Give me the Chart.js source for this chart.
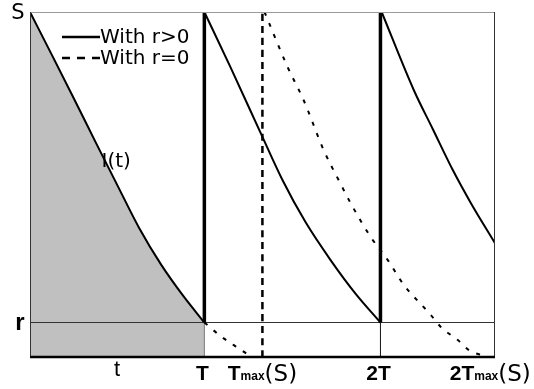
<!DOCTYPE html>
<html>
<head>
<meta charset="utf-8">
<script src="https://cdn.jsdelivr.net/npm/chart.js@4/dist/chart.umd.min.js"></script>
<style>
  html, body { margin: 0; padding: 0; background: #fff; }
  #wrap { width: 534px; height: 389px; }
</style>
</head>
<body>
<div id="wrap"><canvas id="myChart"></canvas></div>
<script>
// axis range
const xRange = [0, 2.667];
const yRange = [0, 1];

// levels on the y axis: r and S
const levelY = [0.1, 1];
const levelLabels = ['r', 'S'];

// marks on the x axis: T, Tmax(S), 2T
const markX = [1, 1.333, 2.01];

// bottom labels
const xTickValues = [0.5, 1, 1.333, 2.01, 2.64];
const xTickLabels = ['t', 'T', 'Tmax(S)', '2T', '2Tmax(S)'];

// With r>0 (solid)
const curve1X = [0, 0.126, 0.253, 0.379, 0.5, 0.626, 0.753, 0.879, 1.0];
const curve1Y = [1.0, 0.875, 0.748, 0.62, 0.499, 0.374, 0.267, 0.177, 0.1];
const curve2X = [1.0, 1.149, 1.333, 1.448, 1.58, 1.724, 1.868, 2.01];
const curve2Y = [1.0, 0.841, 0.638, 0.513, 0.391, 0.281, 0.183, 0.1];
const curve3X = [2.017, 2.201, 2.31, 2.425, 2.529, 2.667];
const curve3Y = [1.0, 0.774, 0.661, 0.542, 0.446, 0.33];

// With r=0 (dashed)
const dash1X = [1.0, 1.092, 1.167, 1.236, 1.264];
const dash1Y = [0.1, 0.061, 0.035, 0.012, 0.004];
const dash2X = [1.345, 1.477, 1.569, 1.684, 1.77, 1.839, 1.954, 2.052, 2.144, 2.299, 2.356, 2.454, 2.517, 2.603];
const dash2Y = [1.0, 0.841, 0.745, 0.6, 0.513, 0.446, 0.348, 0.281, 0.209, 0.122, 0.087, 0.049, 0.02, 0.003];

const pts = (xs, ys) => xs.map((x, i) => ({ x: x, y: ys[i] }));

const r = levelY[0];
const S = levelY[1];

function solid(data, width) {
  return { data: data, borderColor: '#000', borderWidth: width, pointRadius: 0, fill: false,
           tension: 0.3, cubicInterpolationMode: 'monotone' };
}
function dashed(data, width, dash) {
  return { data: data, borderColor: '#000', borderWidth: width, borderDash: dash, pointRadius: 0,
           fill: false, cubicInterpolationMode: 'monotone' };
}

const datasets = [
  // shaded area under I(t)
  Object.assign(solid(pts(curve1X, curve1Y), 2), { fill: 'origin', backgroundColor: '#c0c0c0', order: 5 }),
  solid(pts(curve2X, curve2Y), 2),
  solid(pts(curve3X, curve3Y), 2),
  solid(pts([markX[0], markX[0]], [r, S]), 3.5),
  solid(pts([markX[2], markX[2]], [r, S]), 3.5),
  dashed(pts(dash1X, dash1Y), 2, [4, 8]),
  dashed(pts(dash2X, dash2Y), 2, [4, 8]),
  dashed(pts([markX[1], markX[1]], [0, S]), 2.5, [7, 5]),
  { data: pts(xRange, [r, r]), borderColor: '#333', borderWidth: 1, pointRadius: 0, fill: false },
  { data: pts([markX[0], markX[0]], [0, r]), borderColor: '#777', borderWidth: 1, pointRadius: 0, fill: false },
  { data: pts([markX[2], markX[2]], [0, r]), borderColor: '#111', borderWidth: 1, pointRadius: 0, fill: false }
];

const decor = {
  id: 'decor',
  afterDatasetsDraw(chart) {
    const c = chart.ctx;
    const a = chart.chartArea;
    const xs = chart.scales.x;
    const ys = chart.scales.y;
    c.save();

    // frame
    c.lineWidth = 1;
    c.strokeStyle = '#9a9a9a';
    c.beginPath(); c.moveTo(a.left, a.top + 0.5); c.lineTo(a.right, a.top + 0.5); c.stroke();
    c.strokeStyle = '#333';
    c.beginPath(); c.moveTo(a.left + 0.5, a.top); c.lineTo(a.left + 0.5, a.bottom); c.stroke();
    c.beginPath(); c.moveTo(a.right - 0.5, a.top); c.lineTo(a.right - 0.5, a.bottom); c.stroke();
    c.strokeStyle = '#000';
    c.lineWidth = 2.5;
    c.beginPath(); c.moveTo(a.left, a.bottom); c.lineTo(a.right, a.bottom); c.stroke();

    // legend
    c.fillStyle = '#000';
    c.strokeStyle = '#000';
    c.font = '20px "DejaVu Sans"';
    c.textBaseline = 'alphabetic';
    c.textAlign = 'left';
    c.lineWidth = 2.5;
    c.beginPath(); c.moveTo(a.left + 32, a.top + 25); c.lineTo(a.left + 70, a.top + 25); c.stroke();
    c.fillText('With r>0', a.left + 70, a.top + 31);
    c.setLineDash([8, 7]);
    c.beginPath(); c.moveTo(a.left + 32, a.top + 46); c.lineTo(a.left + 71, a.top + 46); c.stroke();
    c.setLineDash([]);
    c.fillText('With r=0', a.left + 70, a.top + 52);

    // curve label
    c.fillText('I(t)', xs.getPixelForValue(0.41), ys.getPixelForValue(0.55));

    // y labels
    c.textAlign = 'center';
    c.textBaseline = 'middle';
    c.font = '21px "DejaVu Sans"';
    c.fillText(levelLabels[1], a.left - 12, ys.getPixelForValue(S) + 2);
    c.font = 'bold 24px "Liberation Sans"';
    c.fillText(levelLabels[0], a.left - 10, ys.getPixelForValue(r) + 1);

    // x labels
    const base = a.bottom + 23;
    c.textBaseline = 'alphabetic';
    xTickLabels.forEach((lab, i) => {
      const px = xs.getPixelForValue(xTickValues[i]);
      const m = lab.match(/^(\d?T)max(\(S\))$/);
      if (lab === 't') {
        c.font = '22px "Liberation Sans"';
        c.textAlign = 'center';
        c.fillText(lab, px, base - 4);
      } else if (m) {
        const parts = [
          [m[1], 'bold 21px "Liberation Sans"'],
          ['max', 'bold 12px "Liberation Sans"'],
          [m[2], '23px "DejaVu Sans"']
        ];
        let total = 0;
        parts.forEach(p => { c.font = p[1]; total += c.measureText(p[0]).width; });
        let x = px - total / 2;
        c.textAlign = 'left';
        parts.forEach(p => {
          c.font = p[1];
          c.fillText(p[0], x, base + (p[0] === '(S)' ? 1 : 0));
          x += c.measureText(p[0]).width;
        });
      } else {
        c.font = 'bold 21px "Liberation Sans"';
        c.textAlign = 'center';
        c.fillText(lab, px - 2, base);
      }
    });
    c.restore();
  }
};

new Chart(document.getElementById('myChart'), {
  type: 'line',
  data: { datasets: datasets },
  options: {
    responsive: true,
    maintainAspectRatio: false,
    animation: false,
    layout: { padding: { left: 30, top: 12, right: 39, bottom: 32 } },
    plugins: {
      legend: { display: false },
      tooltip: { enabled: false }
    },
    scales: {
      x: { type: 'linear', min: xRange[0], max: xRange[1], display: false },
      y: { type: 'linear', min: yRange[0], max: yRange[1], display: false }
    }
  },
  plugins: [decor]
});
</script>
</body>
</html>
